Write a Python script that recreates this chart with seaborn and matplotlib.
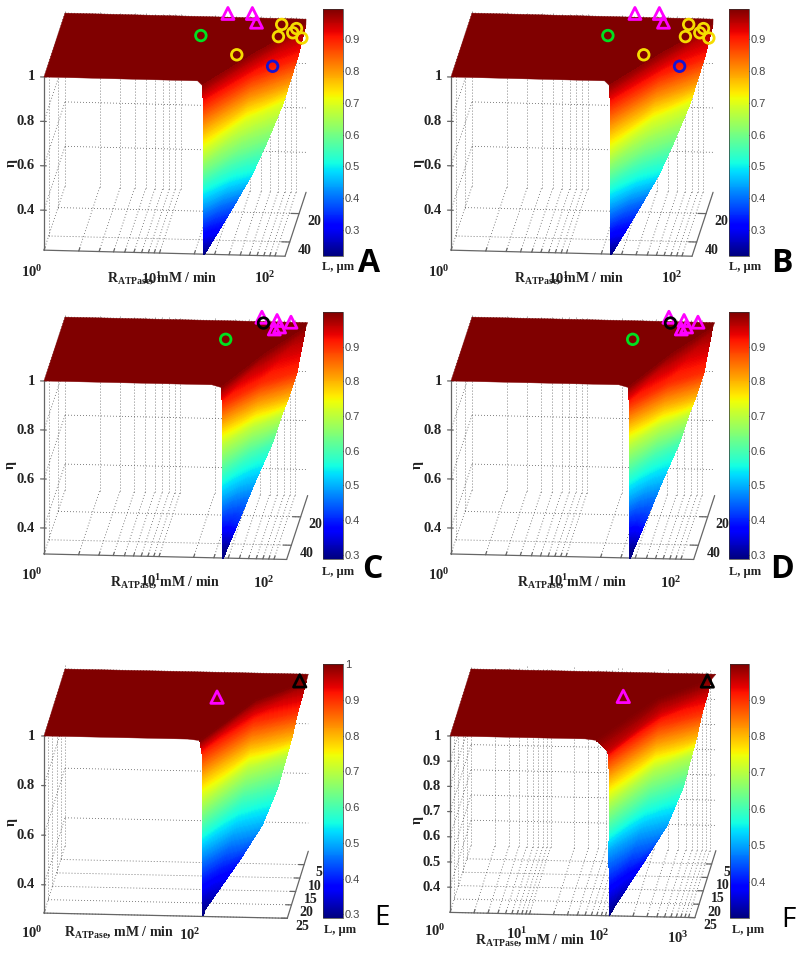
import numpy as np
import pandas as pd
import seaborn as sns
import matplotlib.pyplot as plt
from matplotlib.cm import ScalarMappable
from matplotlib.colors import Normalize
from matplotlib.tri import Triangulation

# surface tables: each row is one eta level, traced from the cliff to the right rim
ab_eta = [0.98, 0.9, 0.8, 0.7, 0.6, 0.5, 0.4, 0.3, 0.22]
ab_left_r = [1.37, 1.38, 1.38, 1.38, 1.38, 1.38, 1.38, 1.38, 1.38]
ab_left_l = [50, 50, 50, 50, 50, 50, 50, 50, 50]
ab_mid_r = [1.74, 1.72, 1.69, 1.66, 1.62, 1.57, 1.51, 1.435, 1.385]
ab_mid_l = [26, 29, 30, 29.5, 36, 41, 43.5, 48.5, 50]
ab_right_r = [2.09, 2.06, 2.0, 1.94, 1.85, 1.75, 1.63, 1.49, 1.39]
ab_right_l = [6, 16.2, 18.8, 17.5, 28, 36, 39.6, 47.7, 49.9]

cd_eta = [0.99, 0.9, 0.8, 0.7, 0.6, 0.5, 0.4, 0.3, 0.292]
cd_left_r = [1.54, 1.534, 1.52, 1.51, 1.513, 1.517, 1.52, 1.53, 1.55]
cd_left_l = [50, 46, 43, 40, 41, 42, 43, 45, 50]
cd_mid_r = [1.82, 1.81, 1.77, 1.725, 1.69, 1.64, 1.59, 1.55, 1.555]
cd_mid_l = [26, 31, 30, 27, 29, 35.5, 42, 44.5, 50]
cd_right_r = [2.10, 2.09, 2.02, 1.94, 1.87, 1.76, 1.66, 1.57, 1.56]
cd_right_l = [7, 23, 23, 19, 21, 32, 43.5, 44, 49.9]

e_eta = [0.995, 0.9, 0.8, 0.7, 0.6, 0.5, 0.4, 0.3, 0.29]
e_left_r = [1.96, 1.95, 1.94, 1.94, 1.94, 1.94, 1.95, 1.98, 2.0]
e_left_l = [25, 21.3, 20.5, 20, 20, 20, 21.3, 24, 25]
e_mid_r = [2.5, 2.46, 2.42, 2.38, 2.33, 2.26, 2.15, 2.0, 2.003]
e_mid_l = [9.5, 9, 8.8, 7.5, 9.5, 13, 17, 24, 25]
e_right_r = [3.06, 2.98, 2.91, 2.82, 2.735, 2.59, 2.35, 2.01, 2.006]
e_right_l = [2.2, 5, 5, 2.5, 5.2, 10.3, 14.2, 23.9, 24.9]

f_eta = [0.995, 0.955, 0.9, 0.8, 0.7, 0.6, 0.5, 0.4, 0.31, 0.30]
f_left_r = [1.84, 1.98, 1.97, 1.96, 1.95, 1.95, 1.94, 1.97, 2.0, 2.0]
f_left_l = [25, 25, 22.4, 21, 20, 20, 19.5, 22, 24.5, 25]
f_mid_r = [2.44, 2.5, 2.46, 2.42, 2.38, 2.33, 2.25, 2.15, 2.025, 2.003]
f_mid_l = [9, 9.5, 9.5, 9, 7.5, 9.5, 12.5, 17, 23, 25]
f_right_r = [3.04, 3.01, 2.96, 2.89, 2.80, 2.72, 2.57, 2.33, 2.05, 2.006]
f_right_l = [1.5, 2.6, 5, 4.7, 2, 4.6, 9.6, 13.4, 21.8, 24.9]

# markers as log10(R), L, eta
ab_tri_r = [1.40, 1.61, 1.67]
ab_tri_l = [2.4, 2, 8]
ab_tri_eta = [1, 1, 1]
ab_yellow_r = [1.88, 1.88, 2.0, 1.98, 2.06, 1.58]
ab_yellow_l = [6, 13, 4, 7, 7.4, 28]
ab_yellow_eta = [0.98, 0.97, 0.95, 0.95, 0.93, 0.98]
ab_green = [1.23, 18.3, 1]
ab_blue = [1.87, 23, 0.9]

cd_tri_r = [1.70, 1.84, 1.84, 1.88, 1.965]
cd_tri_l = [2, 4, 10, 8.5, 5]
cd_tri_eta = [1, 1, 1, 1, 1]
cd_black = [1.73, 6, 1]
cd_green = [1.45, 18, 1]

e_tri = [2.0, 8.3, 0.99]
e_black_tri = [2.96, 0.7, 0.98]
f_tri = [2.0, 8, 0.99]
f_black_tri = [2.98, 0.7, 0.98]

r_minor = [1, 2, 3, 4, 5, 6, 7, 8, 9]
eta_ticks_coarse = [0.4, 0.6, 0.8, 1]
eta_ticks_fine = [0.4, 0.5, 0.6, 0.7, 0.8, 0.9, 1]
l_ticks_long = [20, 40]
l_ticks_short = [5, 10, 15, 20, 25]
cbar_ticks_ad = [0.3, 0.4, 0.5, 0.6, 0.7, 0.8, 0.9]
cbar_ticks_e = [0.3, 0.4, 0.5, 0.6, 0.7, 0.8, 0.9, 1]
cbar_ticks_f = [0.4, 0.5, 0.6, 0.7, 0.8, 0.9]

YELLOW = '#f5dc00'
MAGENTA = '#ff00ff'
GREEN = '#00e020'
BLUE = '#1414d2'
BLACK = '#000000'
GRID = '#555555'
AXIS = '#666666'

sns.set_theme(style='white')
plt.rcParams['font.family'] = ['Liberation Serif', 'DejaVu Serif']
plt.rcParams['mathtext.fontset'] = 'custom'
plt.rcParams['mathtext.rm'] = 'Liberation Serif'
plt.rcParams['mathtext.bf'] = 'Liberation Serif:bold'
plt.rcParams['mathtext.it'] = 'Liberation Serif:italic'
jet = plt.get_cmap('jet')

W, H = 800, 957


def project(p, r, l, eta):
    u = p['lmax'] - np.asarray(l, dtype=float)
    r = np.asarray(r, dtype=float)
    eta = np.asarray(eta, dtype=float)
    x = p['x0'] + p['a'] * r + p['b'] * u
    y = p['y0'] + p['c'] * r - p['d'] * u + (1 - eta) * p['kz']
    return x, y


def line3(ax, p, r, l, eta, **kw):
    x, y = project(p, r, l, eta)
    ax.plot(x, y, **kw)


def draw_grid(ax, p):
    rmax, lmax, lmin, emin = p['rmax'], p['lmax'], p['lmin'], p['eta_min']
    dots = dict(color=GRID, lw=0.6, ls=(0, (1, 2.6)), zorder=1)
    for e in p['eta_ticks']:
        line3(ax, p, [0, 0], [lmax, lmin], [e, e], **dots)
        line3(ax, p, [0, rmax], [lmin, lmin], [e, e], **dots)
    for l in p['l_ticks']:
        line3(ax, p, [0, 0], [l, l], [emin, 1], **dots)
        line3(ax, p, [0, rmax], [l, l], [emin, emin], **dots)
    for r in p['r_grid']:
        line3(ax, p, [r, r], [lmax, lmin], [emin, emin], **dots)
        line3(ax, p, [r, r], [lmin, lmin], [emin, 1.015], **dots)

    solid = dict(color=AXIS, lw=0.9, zorder=2)
    line3(ax, p, [0, 0], [lmax, lmax], [emin, 1], **solid)
    line3(ax, p, [0, rmax], [lmax, lmax], [emin, emin], **solid)
    line3(ax, p, [rmax, rmax], [lmax, lmin], [emin, emin], **solid)
    for e in p['eta_ticks']:
        line3(ax, p, [-0.03, 0.02], [lmax, lmax], [e, e], **solid)
    for r in p['r_grid']:
        tick = (lmax - lmin) * 0.05
        line3(ax, p, [r, r], [lmax, lmax - tick], [emin, emin], **solid)
    for l in p['l_ticks']:
        line3(ax, p, [p['rmax'] - 0.07, p['rmax']], [l, l], [emin, emin], **solid)


def draw_surface(ax, p, s):
    eta, lr, ll, mr, ml, rr, rl = s
    n = len(eta)
    grid_r = np.column_stack([lr, mr, rr])
    grid_l = np.column_stack([ll, ml, rl])
    grid_e = np.column_stack([eta, eta, eta])
    x, y = project(p, grid_r, grid_l, grid_e)

    tris = []
    for i in range(n - 1):
        for j in range(2):
            a = i * 3 + j
            tris.append([a, a + 1, a + 3])
            tris.append([a + 1, a + 4, a + 3])
    tri = Triangulation(x.ravel(), y.ravel(), tris)

    norm = Normalize(p['vmin'], p['vmax'])
    levels = np.linspace(min(eta) - 0.005, max(eta) + 0.005, 220)
    ax.tricontourf(tri, grid_e.ravel(), levels=levels, cmap=jet, norm=norm,
                   antialiased=False, zorder=3.2)

    # flat part of the surface, at eta = 1
    px, py = project(p, [0, p['knee'], lr[0], rr[0], p['rmax'], 0],
                     [p['lmax'], p['lmax'], ll[0], rl[0], p['lmin'], p['lmin']],
                     [1, 1, eta[0], eta[0], 1, 1])
    ax.fill(px, py, color=jet(1.0), lw=0.3, zorder=3)


def draw_markers(ax, p, r, l, eta, marker, color, size, lw=2.0):
    x, y = project(p, r, l, eta)
    df = pd.DataFrame({'sx': np.atleast_1d(x), 'sy': np.atleast_1d(y)})
    sns.scatterplot(data=df, x='sx', y='sy', ax=ax, marker=marker, s=size,
                    facecolor='none', edgecolor=color, linewidth=lw, zorder=6,
                    clip_on=False)


def draw_labels(ax, p):
    bold = dict(fontweight='bold', color='#222222', zorder=7)
    x0 = p['x0']
    for e in p['eta_ticks']:
        _, y = project(p, 0, p['lmax'], e)
        ax.text(x0 - 9, y, f'{e:g}', ha='right', va='center', fontsize=10.5, **bold)
    ax.text(x0 + p['eta_lab'][0], p['eta_lab'][1], 'η', rotation=90, ha='center',
            va='center', fontsize=10, **bold)
    for r, dx, dy in p['r_labels']:
        x, y = project(p, r, p['lmax'], p['eta_min'])
        ax.text(x + dx, y + dy, rf'$\mathbf{{10^{{{r}}}}}$', ha='center', va='center',
                fontsize=10.5, **bold)
    ax.text(p['r_title'][0], p['r_title'][1], r'$\mathbf{R_{ATPase}}$, mM / min',
            ha='center', va='center', fontsize=10, **bold)
    for l in p['l_ticks']:
        x, y = project(p, p['rmax'], l, p['eta_min'])
        ax.text(x + 15, y + 8, str(l), ha='center', va='center', fontsize=10, **bold)
    ax.text(p['l_title'][0], p['l_title'][1], 'L, µm', ha='center', va='center',
            fontsize=9, **bold)
    letter = p['letter']
    ax.text(letter[1], letter[2], letter[0], ha='center', va='center',
            fontsize=letter[3], fontweight=letter[4], color='black', zorder=7,
            family=['Open Sans', 'DejaVu Sans'])


def draw_colorbar(fig, p):
    left, top, right, bottom = p['bar']
    cax = fig.add_axes([left / W, 1 - bottom / H, (right - left) / W, (bottom - top) / H])
    sm = ScalarMappable(norm=Normalize(p['vmin'], p['vmax']), cmap=jet)
    cb = fig.colorbar(sm, cax=cax, ticks=p['cbar_ticks'])
    cb.ax.set_yticklabels([f'{t:g}' for t in p['cbar_ticks']], fontsize=8, color='#444444',
                          family=['Liberation Sans', 'DejaVu Sans'])
    cb.ax.tick_params(axis='y', direction='in', length=2, width=0.6, left=True, right=True,
                      color='#222222', pad=1.5)
    cb.outline.set_linewidth(0.5)
    cb.outline.set_edgecolor('#333333')


def base(x0, y0, kind):
    if kind == 'long':
        return dict(x0=x0, y0=y0, lmax=50, lmin=5, b=0.467, d=1.42, l_ticks=l_ticks_long)
    return dict(x0=x0, y0=y0, lmax=25, lmin=0, b=0.84, d=2.68, l_ticks=l_ticks_short)


def log_grid(decades):
    out = []
    for d in range(decades):
        out += [d + np.log10(v) for v in r_minor]
    out.append(float(decades))
    return out


surf_ab = (ab_eta, ab_left_r, ab_left_l, ab_mid_r, ab_mid_l, ab_right_r, ab_right_l)
surf_cd = (cd_eta, cd_left_r, cd_left_l, cd_mid_r, cd_mid_l, cd_right_r, cd_right_l)
surf_e = (e_eta, e_left_r, e_left_l, e_mid_r, e_mid_l, e_right_r, e_right_l)
surf_f = (f_eta, f_left_r, f_left_l, f_mid_r, f_mid_l, f_right_r, f_right_l)


def panel_ab(x0, bar_x, letter, letter_x, box):
    p = base(x0, 77, 'long')
    p.update(a=115.5, c=2.9, kz=222, rmax=2.087, eta_min=0.22, knee=1.33,
             vmin=0.218, vmax=0.995, eta_ticks=eta_ticks_coarse, r_grid=log_grid(2),
             r_labels=[(0, -12, 22), (1, -8, 26), (2, -10, 22)],
             r_title=(x0 + 118, 278), l_title=(x0 + 294, 267), eta_lab=(-33, 163),
             bar=(bar_x, 9, bar_x + 20, 256), cbar_ticks=cbar_ticks_ad,
             letter=(letter, letter_x, 263, 23, 'bold'), box=box, surf=surf_ab)
    return p


def panel_cd(x0, bar_x, letter, letter_x, box):
    p = base(x0, 381, 'long')
    p.update(a=115, c=2.6, kz=245, rmax=2.11, eta_min=0.294, knee=1.46,
             vmin=0.288, vmax=1.0, eta_ticks=eta_ticks_coarse, r_grid=log_grid(2),
             r_labels=[(0, -12, 21), (1, -8, 24), (2, -10, 24)],
             r_title=(x0 + 121, 582), l_title=(x0 + 294, 572), eta_lab=(-34, 465),
             bar=(bar_x, 312, bar_x + 20, 559), cbar_ticks=cbar_ticks_ad,
             letter=(letter, letter_x, 570, 23, 'bold'), box=box, surf=surf_cd)
    return p


p_e = base(44, 736, 'short')
p_e.update(a=79.5, c=1.7, kz=248, rmax=3.06, eta_min=0.286, knee=1.81, vmin=0.29, vmax=1.0,
           eta_ticks=eta_ticks_coarse, r_grid=[0.0, 2.0],
           r_labels=[(0, -12, 20), (2, -13, 19)], r_title=(119, 932), l_title=(340, 930),
           eta_lab=(-33, 822), bar=(323, 664, 343, 918), cbar_ticks=cbar_ticks_e,
           letter=('E', 382, 918, 20, 'normal'), box=(0, 640, 400, 957), surf=surf_e)

p_f = base(450, 736, 'short')
p_f.update(a=79.5, c=1.7, kz=252, rmax=3.08, eta_min=0.30, knee=1.70, vmin=0.30, vmax=0.998,
           eta_ticks=eta_ticks_fine, r_grid=log_grid(3),
           r_labels=[(0, -15, 19), (1, -13, 20), (2, -10, 20), (3, -11, 21)],
           r_title=(530, 940), l_title=(748, 930), eta_lab=(-33, 820),
           bar=(730, 664, 749, 918), cbar_ticks=cbar_ticks_f,
           letter=('F', 788, 920, 20, 'normal'), box=(400, 640, 800, 957), surf=surf_f)

panels = [
    panel_ab(44, 323, 'A', 369, (0, 0, 400, 300)),
    panel_ab(451, 729, 'B', 782, (400, 0, 800, 300)),
    panel_cd(44, 323, 'C', 372, (0, 300, 400, 640)),
    panel_cd(451, 729, 'D', 782, (400, 300, 800, 640)),
    p_e,
    p_f,
]

fig = plt.figure(figsize=(W / 100, H / 100), dpi=100)
for i, p in enumerate(panels):
    left, top, right, bottom = p['box']
    ax = fig.add_axes([left / W, 1 - bottom / H, (right - left) / W, (bottom - top) / H])
    draw_grid(ax, p)
    draw_surface(ax, p, p['surf'])
    if i < 2:
        draw_markers(ax, p, ab_tri_r, ab_tri_l, ab_tri_eta, '^', MAGENTA, 75)
        draw_markers(ax, p, ab_yellow_r, ab_yellow_l, ab_yellow_eta, 'o', YELLOW, 58)
        draw_markers(ax, p, *ab_green, 'o', GREEN, 58)
        draw_markers(ax, p, *ab_blue, 'o', BLUE, 58)
    elif i < 4:
        draw_markers(ax, p, cd_tri_r, cd_tri_l, cd_tri_eta, '^', MAGENTA, 75)
        draw_markers(ax, p, *cd_black, 'o', BLACK, 58)
        draw_markers(ax, p, *cd_green, 'o', GREEN, 58)
    elif i == 4:
        draw_markers(ax, p, *e_tri, '^', MAGENTA, 80)
        draw_markers(ax, p, *e_black_tri, '^', BLACK, 80)
    else:
        draw_markers(ax, p, *f_tri, '^', MAGENTA, 80)
        draw_markers(ax, p, *f_black_tri, '^', BLACK, 80)
    draw_labels(ax, p)
    ax.set_xlim(left, right)
    ax.set_ylim(bottom, top)
    ax.set_axis_off()
    draw_colorbar(fig, p)

fig.savefig('out.png', dpi=100)
